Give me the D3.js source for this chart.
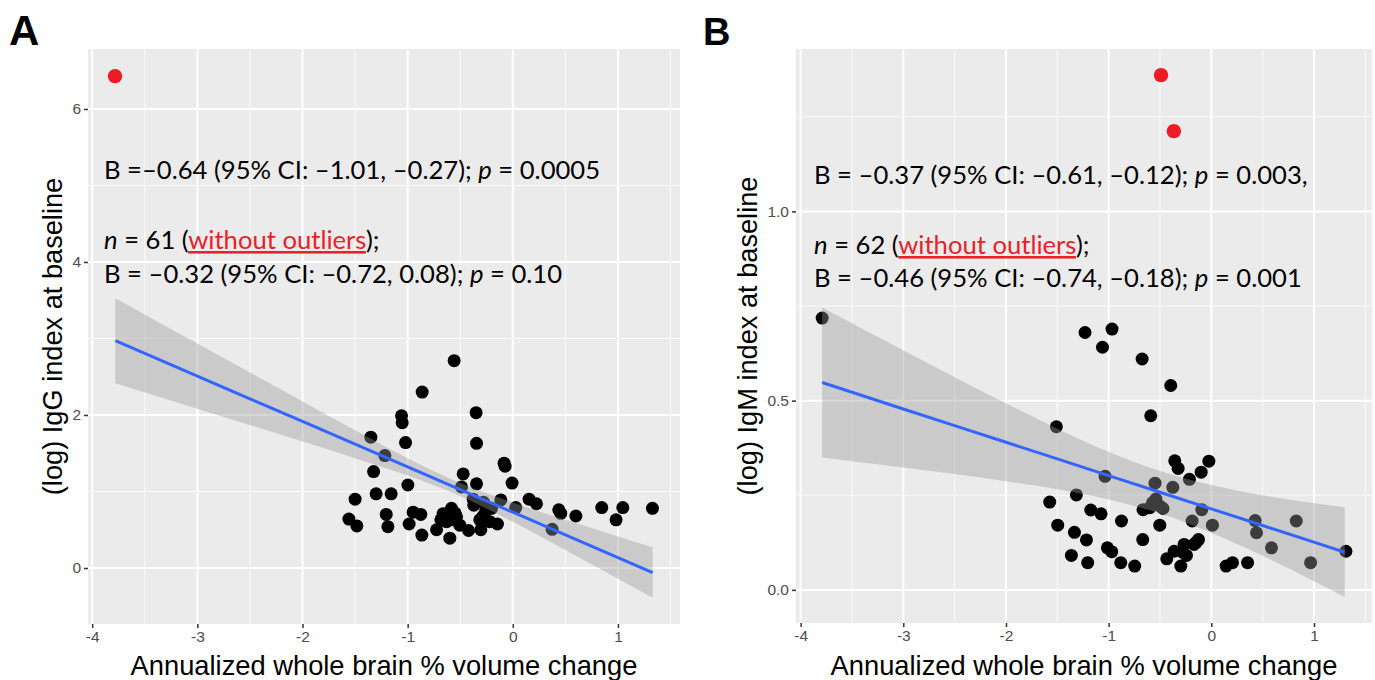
<!DOCTYPE html>
<html><head><meta charset="utf-8">
<script src="https://cdn.jsdelivr.net/npm/d3@7/dist/d3.min.js"></script>
<style>body{margin:0;background:#fff}svg{display:block}</style>
</head><body>
<svg id="chart" width="1375" height="680"></svg>
<script>
// ---------------- DATA ----------------
const xTicks = [-4, -3, -2, -1, 0, 1];
const xTickLabels = ["-4", "-3", "-2", "-1", "0", "1"];
const xMinor = [-3.5, -2.5, -1.5, -0.5, 0.5, 1.5];

const yTicksA = [0, 2, 4, 6];
const yTickLabelsA = ["0", "2", "4", "6"];
const yMinorA = [1, 3, 5];

const yTicksB = [0, 0.5, 1.0];
const yTickLabelsB = ["0.0", "0.5", "1.0"];
const yMinorB = [0.25, 0.75, 1.25];

// Panel A: IgG
const igg_x = [-0.558,-0.862,-1.058,-1.052,-0.349,-1.02,-0.345,-1.35,-1.217,-1.324,-0.083,-0.073,-0.472,-0.007,-0.998,-0.488,-0.345,-1.50,-1.30,-1.157,-0.377,-0.371,-0.114,0.028,0.155,0.225,0.437,0.456,0.60,0.846,1.046,0.982,1.328,0.374,-1.559,-1.483,-1.204,-1.188,-0.986,-0.948,-0.875,-0.865,-0.725,-0.663,-0.583,-0.63,-0.535,-0.599,-0.504,-0.421,-0.304,-0.282,-0.219,-0.146,-0.202,-0.257,-0.684,-0.567,-0.314,-0.55,-0.28];
const igg_y = [2.71,2.30,1.99,1.90,2.03,1.64,1.63,1.71,1.47,1.26,1.37,1.33,1.23,1.11,1.085,1.06,1.10,0.90,0.97,0.97,0.90,0.82,0.89,0.79,0.90,0.84,0.76,0.715,0.68,0.79,0.79,0.63,0.78,0.506,0.64,0.55,0.70,0.54,0.575,0.73,0.70,0.43,0.50,0.71,0.78,0.605,0.67,0.39,0.56,0.49,0.50,0.68,0.605,0.575,0.78,0.75,0.63,0.63,0.63,0.72,0.86];
const igg_out_x = [-3.783];
const igg_out_y = [6.43];
const iggFit_x  = [-3.78, -3.0, -2.5, -2.0, -1.5, -1.0, -0.55, 0.0, 0.5, 1.0, 1.33];
const iggFit_y  = [2.971, 2.508, 2.212, 1.915, 1.619, 1.322, 1.055, 0.729, 0.433, 0.136, -0.060];
const iggFit_lo = [2.416, 2.083, 1.870, 1.655, 1.436, 1.208, 0.970, 0.603, 0.235, -0.141, -0.390];
const iggFit_hi = [3.526, 2.933, 2.554, 2.176, 1.801, 1.436, 1.140, 0.855, 0.630, 0.413, 0.270];

// Panel B: IgM
const igm_x = [-1.23,-0.967,-1.060,-0.674,-0.395,-0.590,-1.509,-0.356,-0.323,-0.024,-0.099,-0.213,-1.035,-0.548,-0.375,-1.574,-1.314,-1.174,-1.074,-0.665,-0.573,-0.499,-0.599,-0.093,-1.496,-1.333,-1.216,-0.875,-0.502,-0.187,0.011,0.427,0.440,0.827,-0.668,-1.363,-1.204,-1.012,-0.970,-0.882,-0.746,-0.434,-0.362,-0.297,-0.242,-0.265,-0.168,-0.125,0.144,0.206,0.353,0.586,0.967,1.311,-3.79,-0.15,-0.28,-0.47,-0.54];
const igm_y = [0.680,0.689,0.641,0.610,0.540,0.460,0.431,0.341,0.321,0.340,0.311,0.292,0.300,0.282,0.271,0.232,0.251,0.211,0.201,0.212,0.230,0.221,0.217,0.212,0.171,0.152,0.132,0.182,0.171,0.182,0.171,0.183,0.151,0.182,0.133,0.091,0.072,0.111,0.101,0.072,0.063,0.082,0.102,0.063,0.091,0.120,0.120,0.133,0.063,0.072,0.072,0.111,0.072,0.102,0.718,0.125,0.100,0.215,0.240];
const igm_out_x = [-0.49, -0.365];
const igm_out_y = [1.360, 1.212];
const igmFit_x  = [-3.79, -3.0, -2.5, -2.0, -1.5, -1.0, -0.5, 0.0, 0.5, 1.0, 1.30];
const igmFit_y  = [0.548, 0.478, 0.434, 0.390, 0.346, 0.302, 0.258, 0.214, 0.170, 0.126, 0.0995];
const igmFit_lo = [0.350, 0.323, 0.306, 0.287, 0.266, 0.239, 0.202, 0.151, 0.090, 0.023, -0.019];
const igmFit_hi = [0.746, 0.633, 0.562, 0.493, 0.426, 0.365, 0.314, 0.277, 0.250, 0.229, 0.218];

const xTitle = "Annualized whole brain % volume change";
const yTitleA = "(log) IgG index at baseline";
const yTitleB = "(log) IgM index at baseline";

const annotA = [
  [{t:"B =\u20130.64 (95% CI: \u20131.01, \u20130.27); "},{t:"p",i:1},{t:" = 0.0005"}],
  [{t:"n",i:1},{t:" = 61 ("},{t:"without outliers",r:1},{t:");"}],
  [{t:"B = \u20130.32 (95% CI: \u20130.72, 0.08); "},{t:"p",i:1},{t:" = 0.10"}]
];
const annotB = [
  [{t:"B = \u20130.37 (95% CI: \u20130.61, \u20130.12); "},{t:"p",i:1},{t:" = 0.003,"}],
  [{t:"n",i:1},{t:" = 62 ("},{t:"without outliers",r:1},{t:");"}],
  [{t:"B = \u20130.46 (95% CI: \u20130.74, \u20130.18); "},{t:"p",i:1},{t:" = 0.001"}]
];

// ---------------- DRAW ----------------
const svg = d3.select("#chart");
const FONT = "'Liberation Sans', Arial, sans-serif";
const ANN_FONT = "Lato, 'Open Sans', sans-serif";

// calibrate annotation font size on the first line of A
let annSize = 25;
(function(){
  const t = svg.append("text").attr("font-family", ANN_FONT).attr("font-size", 25)
    .style("white-space","pre").text(annotA[0].map(d=>d.t).join(""));
  const w = t.node().getComputedTextLength();
  t.remove();
  annSize = 25 * 497 / w;
})();

function drawPanel(cfg) {
  const g = svg.append("g");
  const x = d3.scaleLinear().domain(cfg.xDomain).range([cfg.left, cfg.right]);
  const y = d3.scaleLinear().domain(cfg.yDomain).range([cfg.bottom, cfg.top]);

  g.append("rect").attr("x", cfg.left).attr("y", cfg.top)
    .attr("width", cfg.right - cfg.left).attr("height", cfg.bottom - cfg.top)
    .attr("fill", "#EBEBEB");

  // minor grid
  g.selectAll(".vmin").data(xMinor).join("line")
    .attr("x1", d=>x(d)).attr("x2", d=>x(d)).attr("y1", cfg.top).attr("y2", cfg.bottom)
    .attr("stroke", "#fafafa").attr("stroke-width", 1);
  g.selectAll(".hmin").data(cfg.yMinor).join("line")
    .attr("y1", d=>y(d)).attr("y2", d=>y(d)).attr("x1", cfg.left).attr("x2", cfg.right)
    .attr("stroke", "#fafafa").attr("stroke-width", 1);
  // major grid
  g.selectAll(".vmaj").data(xTicks).join("line")
    .attr("x1", d=>x(d)).attr("x2", d=>x(d)).attr("y1", cfg.top).attr("y2", cfg.bottom)
    .attr("stroke", "#fff").attr("stroke-width", 2);
  g.selectAll(".hmaj").data(cfg.yTicks).join("line")
    .attr("y1", d=>y(d)).attr("y2", d=>y(d)).attr("x1", cfg.left).attr("x2", cfg.right)
    .attr("stroke", "#fff").attr("stroke-width", 2);

  // points
  const pts = cfg.px.map((v,i)=>[v, cfg.py[i]]);
  g.selectAll(".pt").data(pts).join("circle")
    .attr("cx", d=>x(d[0])).attr("cy", d=>y(d[1])).attr("r", 6.5).attr("fill", "#000");
  const outs = cfg.ox.map((v,i)=>[v, cfg.oy[i]]);
  g.selectAll(".out").data(outs).join("circle")
    .attr("cx", d=>x(d[0])).attr("cy", d=>y(d[1])).attr("r", 7.2).attr("fill", "#ED1C24");

  // ribbon
  const fit = cfg.fx.map((v,i)=>({x:v, y:cfg.fy[i], lo:cfg.flo[i], hi:cfg.fhi[i]}));
  g.append("path").datum(fit)
    .attr("d", d3.area().x(d=>x(d.x)).y0(d=>y(d.lo)).y1(d=>y(d.hi)).curve(d3.curveMonotoneX))
    .attr("fill", "#999999").attr("fill-opacity", 0.4);
  g.append("path").datum(fit)
    .attr("d", d3.line().x(d=>x(d.x)).y(d=>y(d.y)))
    .attr("fill", "none").attr("stroke", "#3366FF").attr("stroke-width", 3);

  // axes
  const xa = g.append("g").attr("transform", `translate(0,${cfg.bottom})`)
    .call(d3.axisBottom(x).tickValues(xTicks).tickFormat((d,i)=>xTickLabels[i]).tickSize(4).tickPadding(3));
  const ya = g.append("g").attr("transform", `translate(${cfg.left},0)`)
    .call(d3.axisLeft(y).tickValues(cfg.yTicks).tickFormat((d,i)=>cfg.yLabels[i]).tickSize(4).tickPadding(3));
  [xa, ya].forEach(a => {
    a.select(".domain").remove();
    a.selectAll(".tick line").attr("stroke", "#333").attr("stroke-width", 1.5);
    a.selectAll(".tick text").attr("fill", "#4D4D4D").attr("font-family", FONT).attr("font-size", 15.5);
  });

  // titles
  g.append("text").attr("x", (cfg.left + cfg.right)/2).attr("y", 675)
    .attr("text-anchor", "middle").attr("font-family", FONT).attr("font-size", 27.3)
    .attr("fill", "#000").text(xTitle);
  g.append("text").attr("transform", `translate(${cfg.yTitleX},${(cfg.top+cfg.bottom)/2}) rotate(-90)`)
    .attr("text-anchor", "middle").attr("font-family", FONT).attr("font-size", 27.2)
    .attr("fill", "#000").text(cfg.yTitle);

  // panel letter
  g.append("text").attr("x", cfg.letterX).attr("y", 45).attr("font-family", FONT)
    .attr("font-weight", "bold").attr("font-size", cfg.letterSize).attr("fill", "#000").text(cfg.letter);

  // annotations
  cfg.annot.forEach((line, li) => {
    const t = g.append("text").attr("x", cfg.annX).attr("y", cfg.annY[li])
      .attr("font-family", ANN_FONT).attr("font-size", annSize).attr("fill", "#000")
      .style("white-space", "pre");
    line.forEach(s => {
      const ts = t.append("tspan").text(s.t);
      if (s.i) ts.attr("font-style", "italic");
      if (s.r) ts.attr("fill", "#E8212A").style("text-decoration", "underline");
    });
  });
}

drawPanel({
  left: 88, right: 680, top: 49, bottom: 624,
  xDomain: [-4.04, 1.59], yDomain: [-0.732, 6.784],
  yTicks: yTicksA, yLabels: yTickLabelsA, yMinor: yMinorA,
  px: igg_x, py: igg_y, ox: igg_out_x, oy: igg_out_y,
  fx: iggFit_x, fy: iggFit_y, flo: iggFit_lo, fhi: iggFit_hi,
  yTitle: yTitleA, yTitleX: 62, letter: "A", letterX: 9, letterSize: 42,
  annot: annotA, annX: 104, annY: [179, 249, 283]
});
drawPanel({
  left: 796, right: 1372, top: 49, bottom: 623,
  xDomain: [-4.045, 1.565], yDomain: [-0.0875, 1.429],
  yTicks: yTicksB, yLabels: yTickLabelsB, yMinor: yMinorB,
  px: igm_x, py: igm_y, ox: igm_out_x, oy: igm_out_y,
  fx: igmFit_x, fy: igmFit_y, flo: igmFit_lo, fhi: igmFit_hi,
  yTitle: yTitleB, yTitleX: 757, letter: "B", letterX: 703, letterSize: 38,
  annot: annotB, annX: 814, annY: [184, 254, 287]
});
</script>
</body></html>
